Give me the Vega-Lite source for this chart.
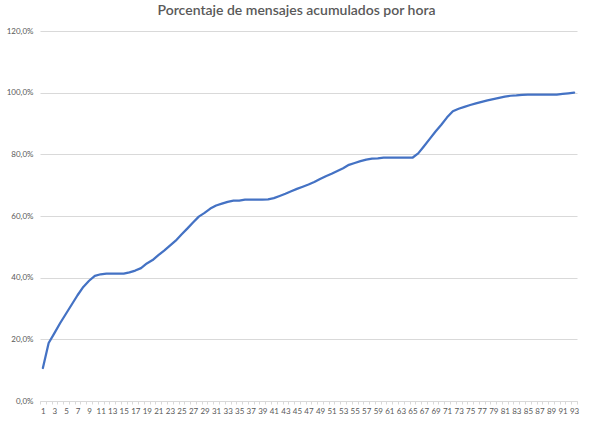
{
  "$schema": "https://vega.github.io/schema/vega-lite/v6.json",
  "width": 537,
  "height": 370,
  "autosize": "none",
  "padding": {"left": 40, "top": 31, "right": 15, "bottom": 30},
  "background": "white",
  "title": {
    "text": "Porcentaje de mensajes acumulados por hora",
    "font": "Lato",
    "fontSize": 14,
    "fontWeight": 600,
    "color": "#595959",
    "anchor": "middle",
    "dx": -12,
    "offset": 9
  },
  "data": {
    "values": [
      {"hora": 1, "pct": 10.7}, {"hora": 2, "pct": 18.8}, {"hora": 3, "pct": 22.0}, {"hora": 4, "pct": 25.3},
      {"hora": 5, "pct": 28.3}, {"hora": 6, "pct": 31.3}, {"hora": 7, "pct": 34.3}, {"hora": 8, "pct": 37.0},
      {"hora": 9, "pct": 39.0}, {"hora": 10, "pct": 40.6}, {"hora": 11, "pct": 41.1}, {"hora": 12, "pct": 41.3},
      {"hora": 13, "pct": 41.3}, {"hora": 14, "pct": 41.3}, {"hora": 15, "pct": 41.3}, {"hora": 16, "pct": 41.7},
      {"hora": 17, "pct": 42.3}, {"hora": 18, "pct": 43.1}, {"hora": 19, "pct": 44.6}, {"hora": 20, "pct": 45.7},
      {"hora": 21, "pct": 47.3}, {"hora": 22, "pct": 48.8}, {"hora": 23, "pct": 50.4}, {"hora": 24, "pct": 52.0},
      {"hora": 25, "pct": 54.0}, {"hora": 26, "pct": 55.9}, {"hora": 27, "pct": 57.9}, {"hora": 28, "pct": 59.8},
      {"hora": 29, "pct": 61.0}, {"hora": 30, "pct": 62.4}, {"hora": 31, "pct": 63.4}, {"hora": 32, "pct": 64.0},
      {"hora": 33, "pct": 64.6}, {"hora": 34, "pct": 65.0}, {"hora": 35, "pct": 65.0}, {"hora": 36, "pct": 65.3},
      {"hora": 37, "pct": 65.3}, {"hora": 38, "pct": 65.3}, {"hora": 39, "pct": 65.3}, {"hora": 40, "pct": 65.4},
      {"hora": 41, "pct": 65.8}, {"hora": 42, "pct": 66.5}, {"hora": 43, "pct": 67.2}, {"hora": 44, "pct": 68.0},
      {"hora": 45, "pct": 68.8}, {"hora": 46, "pct": 69.5}, {"hora": 47, "pct": 70.2}, {"hora": 48, "pct": 71.0},
      {"hora": 49, "pct": 72.0}, {"hora": 50, "pct": 72.9}, {"hora": 51, "pct": 73.7}, {"hora": 52, "pct": 74.6},
      {"hora": 53, "pct": 75.5}, {"hora": 54, "pct": 76.6}, {"hora": 55, "pct": 77.2}, {"hora": 56, "pct": 77.8},
      {"hora": 57, "pct": 78.3}, {"hora": 58, "pct": 78.6}, {"hora": 59, "pct": 78.7}, {"hora": 60, "pct": 78.9},
      {"hora": 61, "pct": 78.9}, {"hora": 62, "pct": 78.9}, {"hora": 63, "pct": 78.9}, {"hora": 64, "pct": 78.9},
      {"hora": 65, "pct": 78.9}, {"hora": 66, "pct": 80.3}, {"hora": 67, "pct": 82.6}, {"hora": 68, "pct": 85.0},
      {"hora": 69, "pct": 87.4}, {"hora": 70, "pct": 89.6}, {"hora": 71, "pct": 92.0}, {"hora": 72, "pct": 94.0},
      {"hora": 73, "pct": 94.8}, {"hora": 74, "pct": 95.4}, {"hora": 75, "pct": 96.0}, {"hora": 76, "pct": 96.5},
      {"hora": 77, "pct": 97.0}, {"hora": 78, "pct": 97.5}, {"hora": 79, "pct": 97.9}, {"hora": 80, "pct": 98.3},
      {"hora": 81, "pct": 98.7}, {"hora": 82, "pct": 99.0}, {"hora": 83, "pct": 99.1}, {"hora": 84, "pct": 99.3},
      {"hora": 85, "pct": 99.4}, {"hora": 86, "pct": 99.4}, {"hora": 87, "pct": 99.4}, {"hora": 88, "pct": 99.4},
      {"hora": 89, "pct": 99.4}, {"hora": 90, "pct": 99.4}, {"hora": 91, "pct": 99.6}, {"hora": 92, "pct": 99.8},
      {"hora": 93, "pct": 100.0}
    ]
  },
  "mark": {"type": "line", "color": "#4472C4", "strokeWidth": 2.25, "strokeCap": "round", "strokeJoin": "round"},
  "encoding": {
    "x": {
      "field": "hora",
      "type": "ordinal",
      "scale": {"type": "band", "paddingInner": 0, "paddingOuter": 0},
      "axis": {
        "title": null,
        "labelAngle": 0,
        "labelFont": "Lato",
        "labelFontSize": 8,
        "labelColor": "#595959",
        "labelPadding": 3,
        "labelExpr": "datum.value % 2 == 1 ? datum.label : ''",
        "labelOverlap": false,
        "tickBand": "extent",
        "tickSize": 3,
        "tickColor": "#d9d9d9",
        "domainColor": "#d9d9d9",
        "grid": false
      }
    },
    "y": {
      "field": "pct",
      "type": "quantitative",
      "scale": {"domain": [0, 120], "nice": false},
      "axis": {
        "title": null,
        "values": [0, 20, 40, 60, 80, 100, 120],
        "labelExpr": "replace(format(datum.value, '.1f'), '.', ',') + '%'",
        "labelFont": "Lato",
        "labelFontSize": 8,
        "labelColor": "#595959",
        "labelPadding": 7,
        "ticks": false,
        "domain": false,
        "grid": true,
        "gridColor": "#d9d9d9",
        "gridWidth": 1
      }
    }
  },
  "config": {"view": {"stroke": null}}
}
